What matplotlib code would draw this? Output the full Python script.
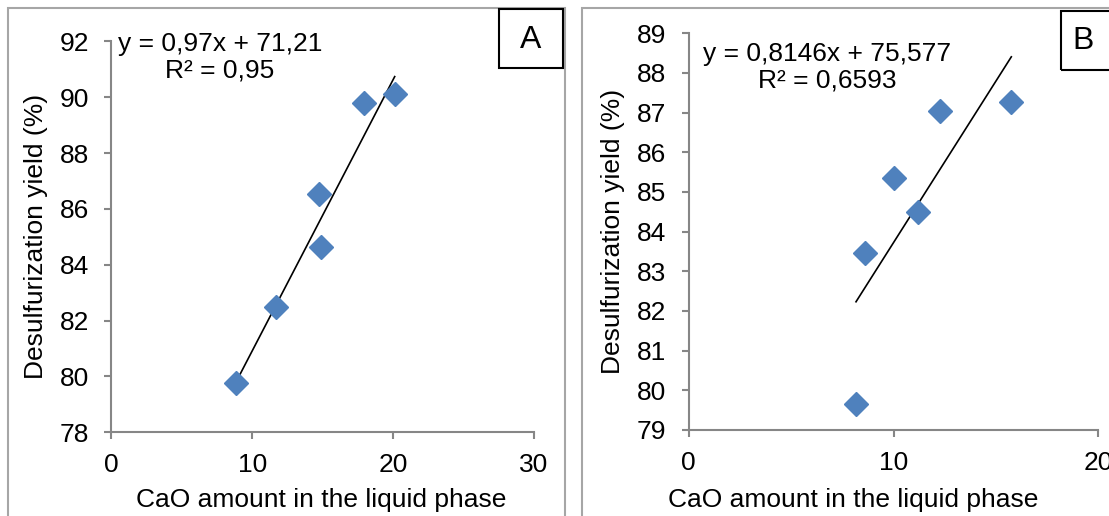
import matplotlib.pyplot as plt
from matplotlib.patches import Rectangle

plt.rcParams['font.family'] = ['Liberation Sans', 'DejaVu Sans']

# panel A data
cao_a = [8.83, 11.71, 14.75, 14.88, 17.92, 20.13]
yield_a = [79.75, 82.5, 86.55, 84.65, 89.8, 90.1]
slope_a, icpt_a = 0.97, 71.21
eq_a = "y = 0,97x + 71,21\nR² = 0,95"

# panel B data
cao_b = [8.17, 8.59, 10.03, 11.19, 12.28, 15.75]
yield_b = [79.65, 83.47, 85.34, 84.49, 87.04, 87.26]
slope_b, icpt_b = 0.8146, 75.577
eq_b = "y = 0,8146x + 75,577\nR² = 0,6593"

W, H = 1109, 516
fig = plt.figure(figsize=(W / 100, H / 100), dpi=100)


def fx(x):
    return x / W


def fy(y):
    return 1 - y / H


spine_col = '#868686'
frame_col = '#a6a6a6'
blue = '#4F81BD'
fs = 19

# outer frames of the two chart panels
for x0, x1, y0 in [(7.5, 565, 7.5), (581.5, 1115, 8)]:
    fig.patches.append(Rectangle((fx(x0), fy(H + 5)), fx(x1 - x0), (H + 5 - y0) / H,
                                 transform=fig.transFigure, fill=False,
                                 edgecolor=frame_col, lw=1.5, clip_on=False))


def setup(ax, xlim, ylim, yticks, xticks):
    ax.set_xlim(*xlim)
    ax.set_ylim(*ylim)
    ax.set_xticks(xticks)
    ax.set_yticks(yticks)
    for s in ['top', 'right']:
        ax.spines[s].set_visible(False)
    for s in ['left', 'bottom']:
        ax.spines[s].set_color(spine_col)
        ax.spines[s].set_linewidth(1.5)
    ax.tick_params(axis='both', direction='out', length=5, width=1.5,
                   color=spine_col, labelsize=fs)
    ax.tick_params(axis='y', pad=11)
    ax.tick_params(axis='x', pad=10)
    ax.patch.set_alpha(0)


def trend(ax, xs, slope, icpt):
    x0, x1 = min(xs), max(xs)
    ax.plot([x0, x1], [slope * x0 + icpt, slope * x1 + icpt], color='black', lw=1.2)


# ---- panel A
ax1 = fig.add_axes([fx(111.4), fy(432.3), fx(533.6 - 111.4), (432.3 - 41.3) / H])
setup(ax1, (0, 30), (78, 92), range(78, 93, 2), [0, 10, 20, 30])
trend(ax1, cao_a, slope_a, icpt_a)
ax1.plot(cao_a, yield_a, 'D', color=blue, ms=12, mec=blue, clip_on=False)
fig.text(fx(220), fy(57), eq_a, ha='center', va='center', fontsize=fs, linespacing=1.12)
fig.text(fx(36), fy(236), 'Desulfurization yield (%)', rotation=90, ha='center', va='center', fontsize=fs)
fig.text(fx(321), fy(500), 'CaO amount in the liquid phase', ha='center', va='center', fontsize=fs)
fig.patches.append(Rectangle((fx(499), fy(68)), fx(63.7), 59 / H, transform=fig.transFigure,
                             fill=False, edgecolor='black', lw=1.5))
fig.text(fx(531), fy(40), 'A', ha='center', va='center', fontsize=23)

# ---- panel B
ax2 = fig.add_axes([fx(688.6), fy(430), fx(1098.4 - 688.6), (430 - 33.3) / H])
setup(ax2, (0, 20), (79, 89), range(79, 90), [0, 10, 20])
trend(ax2, cao_b, slope_b, icpt_b)
ax2.plot(cao_b, yield_b, 'D', color=blue, ms=12, mec=blue, clip_on=False)
fig.text(fx(827), fy(67), eq_b, ha='center', va='center', fontsize=fs, linespacing=1.12)
fig.text(fx(613), fy(231), 'Desulfurization yield (%)', rotation=90, ha='center', va='center', fontsize=fs)
fig.text(fx(853), fy(500), 'CaO amount in the liquid phase', ha='center', va='center', fontsize=fs)
fig.patches.append(Rectangle((fx(1061), fy(70)), fx(60), 59 / H, transform=fig.transFigure,
                             fill=False, edgecolor='black', lw=1.5, clip_on=False))
fig.text(fx(1083), fy(41), 'B', ha='center', va='center', fontsize=23)

fig.savefig('out.png', dpi=100)
